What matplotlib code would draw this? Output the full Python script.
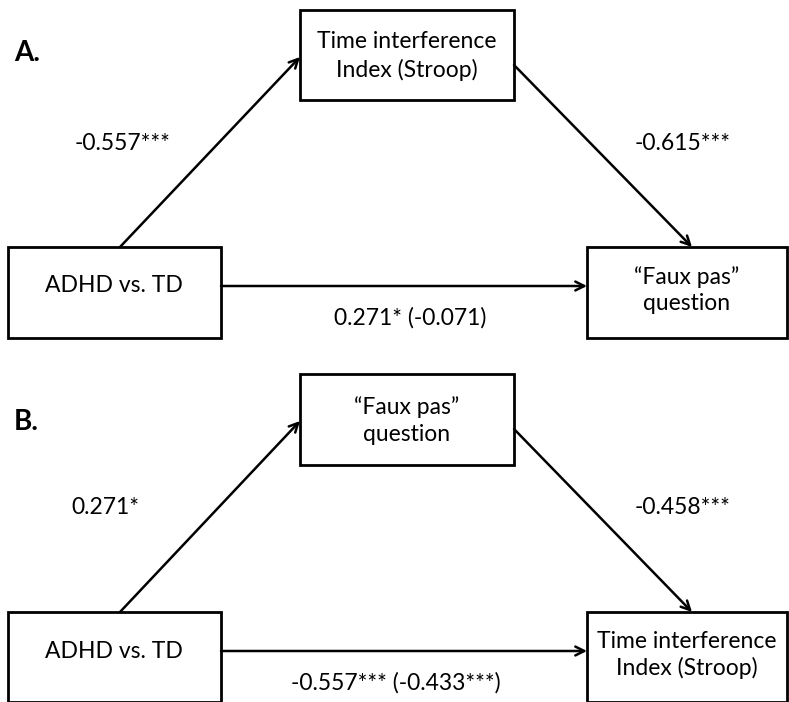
import matplotlib.pyplot as plt
from matplotlib.patches import Rectangle

plt.rcParams['font.family'] = ['Lato', 'DejaVu Sans']

panel_labels = ['A.', 'B.']
mediators = ['Time interference\nIndex (Stroop)', '\u201cFaux pas\u201d\nquestion']
outcomes = ['\u201cFaux pas\u201d\nquestion', 'Time interference\nIndex (Stroop)']
predictor = 'ADHD vs. TD'
path_a = ['-0.557***', '0.271*']
path_b = ['-0.615***', '-0.458***']
path_c = ['0.271* (-0.071)', '-0.557*** (-0.433***)']

W, H = 789, 702
fig = plt.figure(figsize=(W / 100, H / 100), dpi=100)
ax = fig.add_axes([0, 0, 1, 1])
ax.set_xlim(0, W)
ax.set_ylim(H, 0)
ax.axis('off')

fs = 16.5
box_lw = 2.0
arr = dict(arrowstyle='->', lw=1.8, color='black', mutation_scale=16, shrinkA=0, shrinkB=0)

# pixel layout of each panel (offsets for A and B)
offsets = [0, 350]
mid_top = [10, 24]
mid_bot = [100, 115]
low_top = [247, 262]
low_bot = [338, 352]

for i, y0 in enumerate(offsets):
    mt, mb = y0 + mid_top[i], y0 + mid_bot[i]
    lt, lb = y0 + low_top[i], y0 + low_bot[i]
    # boxes
    ax.add_patch(Rectangle((300, mt), 214, mb - mt, fill=False, lw=box_lw, ec='black'))
    ax.add_patch(Rectangle((8, lt), 213, lb - lt, fill=False, lw=box_lw, ec='black'))
    ax.add_patch(Rectangle((587, lt), 200, lb - lt, fill=False, lw=box_lw, ec='black'))
    # box texts
    ax.text(407, (mt + mb) / 2 + 1, mediators[i], ha='center', va='center', fontsize=fs, linespacing=1.4)
    ax.text(114, lt + 39, predictor, ha='center', va='center', fontsize=fs)
    ax.text(687, (lt + lb) / 2 - 2, outcomes[i], ha='center', va='center', fontsize=fs, linespacing=1.3)
    # arrows
    ax.annotate('', xy=(300, mt + 47), xytext=(120, lt), arrowprops=arr)
    ax.annotate('', xy=(692, lt), xytext=(514, mt + 55), arrowprops=arr)
    ax.annotate('', xy=(587, lt + 39), xytext=(221, lt + 39), arrowprops=arr)
    # panel label and coefficients
    ax.text(14, y0 + (53 if i == 0 else 72), panel_labels[i], ha='left', va='center',
            fontsize=20, fontweight='bold')
    ax.text(123 if i == 0 else 105, y0 + (143 if i == 0 else 158), path_a[i], ha='center', va='center', fontsize=fs)
    ax.text(683, y0 + (143 if i == 0 else 158), path_b[i], ha='center', va='center', fontsize=fs)
    ax.text(410 if i == 0 else 396, lt + 71, path_c[i], ha='center', va='center', fontsize=fs)

fig.savefig('out.png', dpi=100, facecolor='white')
